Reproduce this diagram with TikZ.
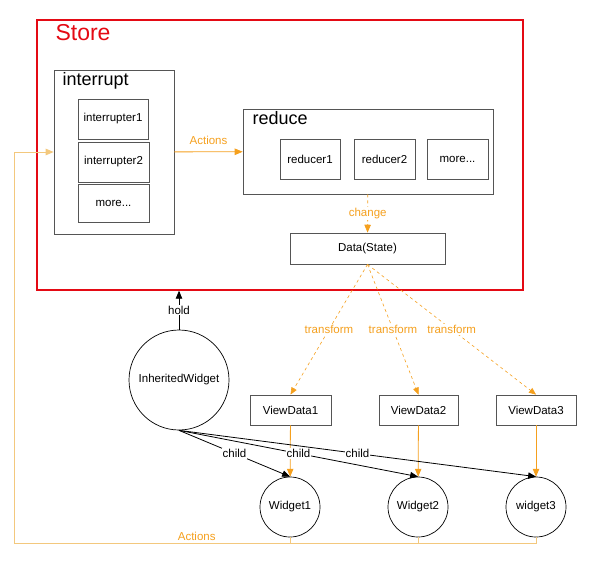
\documentclass[tikz,border=0pt]{standalone}
\usepackage{fontspec}
\setmainfont{Liberation Sans}
\usepackage{tikz}
\usetikzlibrary{arrows,%
                petri}

\definecolor{storered}{RGB}{228,10,20}
\definecolor{actorange}{RGB}{245,160,30}
\definecolor{backorange}{RGB}{243,200,125}
\definecolor{boxgray}{RGB}{85,85,85}

\begin{document}
\begin{tikzpicture}[x=1pt,y=-1pt,font=\fontsize{11.5}{13}\selectfont,
		flow/.style={->,>=triangle 45,line width=0.8pt},
		BoxStyle/.style={draw=boxgray,rectangle,line width=0.8pt,inner sep=0pt},
		RoundStyle/.style={draw=black,circle,line width=0.7pt,inner sep=0pt}]
		\useasboundingbox (0,0) rectangle (596,568);
		% store
		\node[draw=storered,line width=1.6pt,minimum width=486pt,minimum height=270pt] (Store) at (280,155) {};
		\node[anchor=base west,text=storered,font=\fontsize{23}{26}\selectfont] (StoreL) at (52,40) {Store};
		{
			\tikzset{BoxStyle/.append style = {minimum height=40pt}}
			\node[BoxStyle,minimum width=120pt,minimum height=164pt] (Int) at (114,152) {};
			\node[BoxStyle,minimum width=250pt,minimum height=85pt] (Red) at (368,151.5) {};
			\node[BoxStyle,minimum width=70pt] (Int1) at (113,119) {interrupter1};
			\node[BoxStyle,minimum width=71pt] (Int2) at (113.5,162) {interrupter2};
			\node[BoxStyle,minimum width=71pt,minimum height=38pt] (IntM) at (113.5,203) {more...};
			\node[BoxStyle,minimum width=60pt] (Red1) at (310,159) {reducer1};
			\node[BoxStyle,minimum width=61pt] (Red2) at (384.5,159) {reducer2};
			\node[BoxStyle,minimum width=61pt] (RedM) at (457.5,159) {more...};
		}
		\node[anchor=base west,font=\fontsize{18}{20}\selectfont] (IntL) at (59,85) {interrupt};
		\node[anchor=base west,font=\fontsize{18}{20}\selectfont] (RedL) at (249,124) {reduce};
		\node[BoxStyle,minimum width=155pt,minimum height=31pt] (Data) at (367.5,248.5) {Data(State)};
		% widgets
		{
			\tikzset{BoxStyle/.append style = {minimum height=30pt}}
			\node[BoxStyle,minimum width=81pt] (VD1) at (290.5,410) {ViewData1};
			\node[BoxStyle,minimum width=79pt] (VD2) at (418.5,410) {ViewData2};
			\node[BoxStyle,minimum width=80pt] (VD3) at (536,410) {ViewData3};
		}
		\node[RoundStyle,minimum size=100pt] (IW) at (179,380) {InheritedWidget};
		\node[RoundStyle,minimum size=60pt] (W1) at (290,507) {Widget1};
		\node[RoundStyle,minimum size=60pt] (W2) at (418,507) {Widget2};
		\node[RoundStyle,minimum size=60pt] (W3) at (536,507) {widget3};
		\coordinate (BotR) at (536,543);
		\coordinate (BotL) at (14,543);
		\coordinate (TopL) at (14,152);
		% edges
		\draw[flow,actorange] (Int) -- node[above=3pt,text=actorange] {Actions} (Red);
		\draw[flow,actorange,dashed] (Red) -- node[fill=white,inner sep=1pt,text=actorange] {change} (Data);
		{
			\tikzset{flow/.append style = {actorange,dashed,line width=0.6pt}}
			\draw[flow] (Data.south) -- node[fill=white,inner sep=1pt,text=actorange] {transform} (VD1.north);
			\draw[flow] (Data.south) -- node[fill=white,inner sep=1pt,text=actorange] {transform} (VD2.north);
			\draw[flow] (Data.south) -- node[fill=white,inner sep=1pt,text=actorange] {transform} (VD3.north);
		}
		\draw[flow,actorange] (VD1) -- (W1);
		\draw[flow,actorange] (VD2) -- (W2);
		\draw[flow,actorange] (VD3) -- (W3);
		\draw[flow] (IW) -- node[fill=white,inner sep=1pt] {hold} (Store.south -| IW);
		\draw[flow] (IW.south) -- node[fill=white,inner sep=1pt] {child} (W1.north);
		\draw[flow] (IW.south) -- node[fill=white,inner sep=1pt] {child} (W2.north);
		\draw[flow] (IW.south) -- node[fill=white,inner sep=1pt] {child} (W3.north);
		% feedback
		\draw[backorange,line width=0.8pt] (W1.south) -- (W1.south |- BotR);
		\draw[backorange,line width=0.8pt] (W2.south) -- (W2.south |- BotR);
		\draw[flow,backorange] (W3.south) -- (BotR) -- node[above=-1pt,pos=0.65,text=actorange] {Actions} (BotL) -- (TopL) -- (Int.west);
		%\draw[flow,actorange] (TopL) -- (Int.west);
	\end{tikzpicture}
\end{document}
